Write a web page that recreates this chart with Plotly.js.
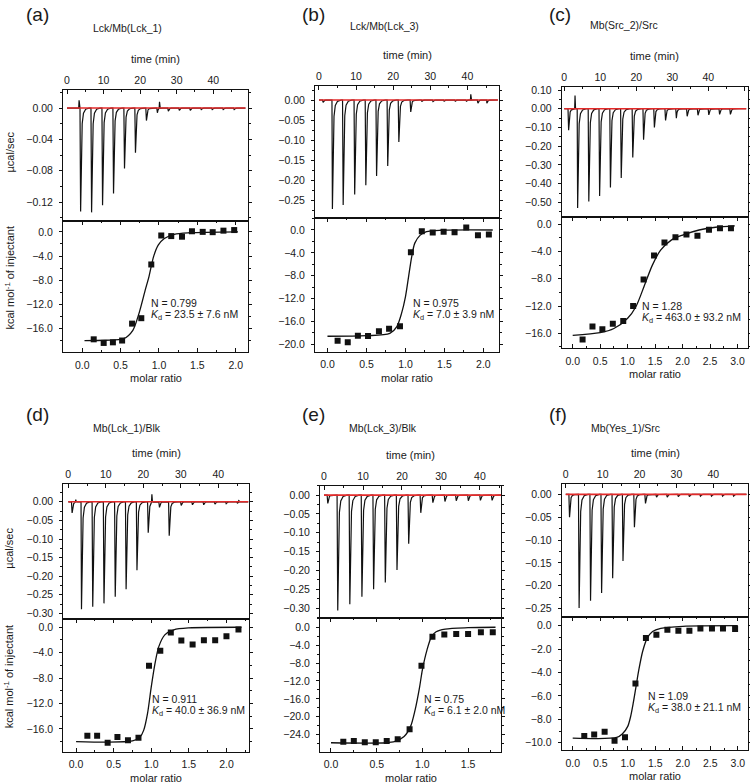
<!DOCTYPE html>
<html><head><meta charset="utf-8">
<script src="https://cdn.plot.ly/plotly-3.0.1.min.js"></script>
<style>body{margin:0;background:#fff}#chart{width:750px;height:783px}</style>
</head><body><div id="chart"></div>
<script>
// ---------- DATA ----------
// Panel (a) Lck/Mb(Lck_1)
const timesA = [3.6, 6.6, 9.6, 12.6, 15.6, 18.6, 21.6, 24.6, 27.6, 30.6, 33.6, 36.6, 39.6, 42.6, 45.6];
const peaksA = [-0.132, -0.133, -0.124, -0.109, -0.077, -0.057, -0.016, -0.006, -0.004, -0.003, -0.003, -0.002, -0.002, -0.002, -0.002];
const blipTA = [3.3, 25.3];
const blipVA = [0.010, 0.008];
const ratioA = [0.15, 0.28, 0.40, 0.52, 0.65, 0.77, 0.90, 1.03, 1.16, 1.30, 1.43, 1.57, 1.70, 1.84, 1.98];
const heatA  = [-17.8, -18.4, -18.3, -18.0, -15.2, -14.3, -5.4, -0.6, -0.7, -0.8, 0.1, 0.0, -0.05, 0.2, 0.3];
const fitXA  = [0.03, 0.30, 0.54, 0.66, 0.74, 0.82, 0.87, 0.93, 0.99, 1.07, 1.20, 1.40, 2.03];
const fitYA  = [-18.0, -17.95, -17.7, -16.3, -13.5, -9.7, -7.4, -4.1, -2.2, -1.1, -0.4, -0.15, 0.0];

// Panel (b) Lck/Mb(Lck_3)
const timesB = [1.0, 3.5, 6.4, 9.5, 12.5, 15.4, 18.4, 21.4, 24.6, 27.6, 30.6, 33.6, 36.6, 39.6, 42.7, 45.1];
const peaksB = [-0.006, -0.272, -0.262, -0.236, -0.213, -0.190, -0.165, -0.105, -0.030, -0.004, -0.004, -0.003, -0.003, -0.003, -0.008, -0.008];
const blipTB = [40.9];
const blipVB = [0.014];
const ratioB = [0.13, 0.26, 0.39, 0.52, 0.66, 0.79, 0.93, 1.07, 1.21, 1.35, 1.49, 1.63, 1.78, 1.93, 2.07];
const heatB  = [-19.4, -19.65, -18.5, -18.55, -17.7, -17.3, -16.85, -3.9, -0.2, -0.45, -0.3, -0.4, 0.45, -0.9, -0.8];
const fitXB  = [0.0, 0.5, 0.8, 0.89, 0.95, 1.0, 1.04, 1.08, 1.12, 1.19, 1.27, 1.45, 2.12];
const fitYB  = [-18.6, -18.5, -18.1, -16.9, -14.6, -11.7, -8.2, -4.7, -2.3, -0.9, -0.3, -0.05, 0.0];

// Panel (c) Mb(Src_2)/Src
const timesC = [1.1, 3.6, 6.7, 9.7, 12.7, 15.7, 18.9, 21.9, 24.9, 28.0, 31.0, 34.0, 37.0, 40.0, 43.0, 46.0];
const peaksC = [-0.115, -0.53, -0.495, -0.465, -0.42, -0.37, -0.26, -0.165, -0.10, -0.062, -0.05, -0.04, -0.035, -0.033, -0.03, -0.03];
const blipTC = [3.0];
const blipVC = [0.07];
const ratioC = [0.18, 0.36, 0.54, 0.73, 0.92, 1.10, 1.29, 1.48, 1.67, 1.87, 2.07, 2.27, 2.48, 2.68, 2.88];
const heatC  = [-16.9, -15.0, -15.4, -14.6, -14.2, -12.0, -8.1, -4.6, -2.7, -1.9, -1.5, -1.7, -0.8, -0.6, -0.6];
const fitXC  = [0.0, 0.5, 0.75, 1.0, 1.15, 1.3, 1.45, 1.6, 1.8, 2.0, 2.3, 2.6, 2.95];
const fitYC  = [-16.3, -15.9, -15.3, -13.8, -12.1, -9.1, -6.0, -3.8, -2.3, -1.6, -0.85, -0.45, -0.25];

// Panel (d) Mb(Lck_1)/Blk
const timesD = [0.9, 3.4, 6.4, 9.4, 12.4, 15.3, 18.2, 21.2, 24.2, 26.8, 30.0, 33.0, 36.0, 39.0, 42.0, 45.0];
const peaksD = [-0.03, -0.289, -0.282, -0.273, -0.255, -0.235, -0.184, -0.083, -0.015, -0.091, -0.010, -0.008, -0.008, -0.006, -0.005, -0.004];
const blipTD = [2.0, 22.3, 45.5];
const blipVD = [0.006, 0.02, 0.005];
const ratioD = [0.15, 0.28, 0.42, 0.55, 0.69, 0.83, 0.97, 1.12, 1.26, 1.40, 1.55, 1.70, 1.85, 2.00, 2.16];
const heatD  = [-17.1, -17.1, -18.2, -17.3, -17.8, -17.4, -6.05, -3.7, -0.84, -2.1, -2.7, -2.05, -2.05, -1.4, -0.37];
const fitXD  = [0.0, 0.75, 0.85, 0.9, 0.95, 1.0, 1.05, 1.1, 1.18, 1.3, 1.5, 2.2];
const fitYD  = [-18.0, -17.9, -17.3, -16.2, -13.6, -9.4, -5.7, -3.05, -1.2, -0.4, -0.1, 0.0];

// Panel (e) Mb(Lck_3)/Blk
const timesE = [0.85, 3.4, 6.5, 9.6, 12.6, 15.6, 18.6, 21.6, 24.7, 27.8, 30.9, 33.8, 36.9, 40.0, 43.0];
const peaksE = [-0.022, -0.306, -0.29, -0.27, -0.25, -0.232, -0.199, -0.129, -0.047, -0.02, -0.017, -0.015, -0.015, -0.014, -0.014];
const blipTE = [];
const blipVE = [];
const ratioE = [0.135, 0.25, 0.37, 0.49, 0.61, 0.73, 0.86, 0.99, 1.11, 1.24, 1.37, 1.50, 1.64, 1.77];
const heatE  = [-25.6, -25.4, -25.7, -25.7, -25.4, -25.0, -22.8, -8.6, -2.1, -1.6, -1.5, -1.5, -1.1, -1.1];
const fitXE  = [0.0, 0.6, 0.7, 0.8, 0.87, 0.92, 0.97, 1.0, 1.05, 1.1, 1.15, 1.25, 1.5, 1.8];
const fitYE  = [-25.8, -25.8, -25.5, -24.4, -22.2, -18.5, -13.3, -9.5, -5.1, -2.1, -1.0, -0.4, -0.1, 0.0];

// Panel (f) Mb(Yes_1)/Src
const timesF = [0.9, 3.5, 6.6, 9.6, 12.6, 15.4, 18.5, 21.5, 24.5, 27.4, 30.4, 33.4, 36.4, 39.4, 42.4, 45.4];
const peaksF = [-0.05, -0.249, -0.233, -0.216, -0.184, -0.146, -0.072, -0.020, -0.006, -0.006, -0.005, -0.005, -0.004, -0.004, -0.004, -0.004];
const blipTF = [];
const blipVF = [];
const ratioF = [0.21, 0.39, 0.58, 0.76, 0.95, 1.14, 1.33, 1.52, 1.72, 1.92, 2.12, 2.32, 2.53, 2.73, 2.95];
const heatF  = [-9.43, -9.29, -9.06, -9.83, -9.54, -4.93, -1.05, -0.77, -0.34, -0.43, -0.43, -0.23, -0.23, -0.23, -0.28];
const fitXF  = [0.0, 0.8, 0.9, 1.0, 1.05, 1.1, 1.15, 1.2, 1.27, 1.35, 1.45, 1.6, 2.0, 3.0];
const fitYF  = [-9.6, -9.55, -9.26, -8.6, -7.8, -6.6, -5.2, -3.8, -2.2, -1.1, -0.5, -0.23, -0.05, 0.0];

// ---------- PANEL SETUP (layout / style) ----------
const W = 750, H = 783;
const panels = [
 {lab:'(a)', title:'Lck/Mb(Lck_1)', X:[63,248], T:[90,221], B:[221,352], tR:[-1.1,49.5], tEnd:48.8,
  pR:[-0.144,0.023], pD:0.04, hR:[-19.9,1.8], hD:4, mR:[-0.25,2.16], labXY:[37,14], titXY:[127.5,28],
  N:'0.799', K:'23.5 ± 7.6 nM', nXY:[149,303], yl:true,
  d:[timesA,peaksA,blipTA,blipVA,ratioA,heatA,fitXA,fitYA]},
 {lab:'(b)', title:'Lck/Mb(Lck_3)', X:[315,499], T:[86,217.7], B:[217.7,351.7], tR:[-1.07,48.5], tEnd:48.2,
  pR:[-0.294,0.035], pD:0.05, hR:[-21.3,2.15], hD:4, mR:[-0.16,2.2], labXY:[313,14], titXY:[384,26],
  N:'0.975', K:'7.0 ± 3.9 nM', nXY:[411,303],
  d:[timesB,peaksB,blipTB,blipVB,ratioB,heatB,fitXB,fitYB]},
 {lab:'(c)', title:'Mb(Src_2)/Src', X:[561.7,748], T:[87,216.7], B:[216.7,348.3], tR:[-0.7,51], tEnd:50.5,
  pR:[-0.576,0.116], pD:0.1, hR:[-18.2,1.1], hD:4, mR:[-0.2,3.19], labXY:[560,14], titXY:[624,25],
  N:'1.28', K:'463.0 ± 93.2 nM', nXY:[640,306],
  d:[timesC,peaksC,blipTC,blipVC,ratioC,heatC,fitXC,fitYC]},
 {lab:'(d)', title:'Mb(Lck_1)/Blk', X:[63.3,249], T:[484.3,619], B:[619,751.7], tR:[-1.33,48.2], tEnd:48,
  pR:[-0.315,0.047], pD:0.05, hR:[-19.6,1.3], hD:4, mR:[-0.17,2.3], labXY:[37,414], titXY:[127,428],
  N:'0.911', K:'40.0 ± 36.9 nM', nXY:[150,699], yl:true,
  d:[timesD,peaksD,blipTD,blipVD,ratioD,heatD,fitXD,fitYD]},
 {lab:'(e)', title:'Mb(Lck_3)/Blk', X:[320,501], T:[485.7,618.3], B:[618.3,751.7], tR:[-1.03,45.4], tEnd:45.4,
  pR:[-0.327,0.025], pD:0.05, hR:[-27.8,2.0], hD:4, mR:[-0.12,1.86], labXY:[313,414], titXY:[383,428],
  N:'0.75', K:'6.1 ± 2.0 nM', nXY:[421.7,699],
  d:[timesE,peaksE,blipTE,blipVE,ratioE,heatE,fitXE,fitYE]},
 {lab:'(f)', title:'Mb(Yes_1)/Src', X:[561.7,748.3], T:[484.3,616.7], B:[616.7,750], tR:[-1.1,49.5], tEnd:49,
  pR:[-0.268,0.022], pD:0.05, hR:[-10.62,0.77], hD:2, mR:[-0.2,3.19], labXY:[558,414], titXY:[625,428],
  N:'1.09', K:'38.0 ± 21.1 nM', nXY:[645.7,696],
  d:[timesF,peaksF,blipTF,blipVF,ratioF,heatF,fitXF,fitYF]}
];

// injection peak rendering profile (shape only)
const SHAPE_DT = [-0.05, 0.12, 0.3, 0.55, 0.9, 1.5, 2.5];
const SHAPE_F  = [0, 1, 0.4, 0.15, 0.05, 0.012, 0];
function buildTrace(times, peaks, bT, bV, tEnd){
  const pts = [[0,0]];
  times.forEach((t,i)=>SHAPE_DT.forEach((d,j)=>pts.push([t+d, peaks[i]*SHAPE_F[j]])));
  bT.forEach((t,i)=>{pts.push([t-0.1,0],[t,bV[i]],[t+0.15,0]);});
  pts.push([tEnd,0]);
  pts.sort((a,b)=>a[0]-b[0]);
  return {x:pts.map(p=>p[0]), y:pts.map(p=>p[1])};
}

const FONT = 'Liberation Sans, Arial, sans-serif';
const TXT = '#1a1a1a';
const tickfont = {family:FONT, size:10.5, color:TXT};
const traces = [];
const layout = {width:W, height:H, margin:{l:0,r:0,t:0,b:0}, showlegend:false,
  paper_bgcolor:'#fff', plot_bgcolor:'#fff', annotations:[]};
const px = x=>x/W, py = y=>1-y/H;
const s = n=>n===1?'':String(n);
function ann(text,x,y,o){layout.annotations.push(Object.assign({text, x:px(x), y:py(y), xref:'paper', yref:'paper',
  showarrow:false, xanchor:'center', yanchor:'middle', font:{family:FONT,size:11,color:TXT}}, o||{}));}

const axBase = {showline:true, linecolor:'#111', linewidth:1, showgrid:false, zeroline:false, tickfont,
  tickcolor:'#111'};

panels.forEach((p,k)=>{
  const t = 2*k+1, b = 2*k+2;
  const [times,peaks,bT,bV,ratio,heat,fx,fy] = p.d;
  const tr = buildTrace(times,peaks,bT,bV,p.tEnd);
  traces.push({x:tr.x, y:tr.y, xaxis:'x'+s(t), yaxis:'y'+s(t), mode:'lines', line:{color:'#111', width:1.2}, hoverinfo:'skip'});
  traces.push({x:[0,p.tEnd], y:[0,0], xaxis:'x'+s(t), yaxis:'y'+s(t), mode:'lines', line:{color:'#e32a2a', width:1.6}});
  traces.push({x:fx, y:fy, xaxis:'x'+s(b), yaxis:'y'+s(b), mode:'lines', line:{color:'#111', width:1.3, shape:'spline', smoothing:0.8}});
  traces.push({x:ratio, y:heat, xaxis:'x'+s(b), yaxis:'y'+s(b), mode:'markers', marker:{symbol:'square', size:6, color:'#111'}});

  const xd = [px(p.X[0]), px(p.X[1])];
  layout['xaxis'+s(t)] = Object.assign({}, axBase, {domain:xd, range:p.tR, anchor:'y'+s(t), side:'top',
    tick0:0, dtick:10, tickformat:'d', ticks:'inside', ticklen:4, mirror:true,
    minor:{dtick:5, ticks:'inside', ticklen:2, tickcolor:'#111'}, ticklabelstandoff:1});
  layout['yaxis'+s(t)] = Object.assign({}, axBase, {domain:[py(p.T[1]), py(p.T[0])], range:p.pR, anchor:'x'+s(t),
    tick0:0, dtick:p.pD, tickformat:'.2f', ticks:'outside', ticklen:3, mirror:'ticks',
    minor:{dtick:p.pD/2, ticks:'outside', ticklen:2, tickcolor:'#111'}, ticklabelstandoff:4});
  layout['xaxis'+s(b)] = Object.assign({}, axBase, {domain:xd, range:p.mR, anchor:'y'+s(b), side:'bottom',
    tick0:0, dtick:0.5, tickformat:'.1f', ticks:'inside', ticklen:4, mirror:'ticks',
    minor:{dtick:0.25, ticks:'inside', ticklen:2, tickcolor:'#111'}, ticklabelstandoff:3});
  layout['yaxis'+s(b)] = Object.assign({}, axBase, {domain:[py(p.B[1]), py(p.B[0])], range:p.hR, anchor:'x'+s(b),
    tick0:0, dtick:p.hD, tickformat:'.1f', ticks:'outside', ticklen:3, mirror:'ticks',
    minor:{dtick:p.hD/2, ticks:'outside', ticklen:2, tickcolor:'#111'}, ticklabelstandoff:4});

  const cx = (p.X[0]+p.X[1])/2;
  ann(p.lab, p.labXY[0], p.labXY[1], {font:{family:FONT,size:19,color:TXT}});
  ann(p.title, p.titXY[0], p.titXY[1], {font:{family:FONT,size:10.5,color:TXT}});
  ann('time (min)', cx, p.T[0]-31);
  ann('molar ratio', cx, p.B[1]+26);
  ann('N = '+p.N, p.nXY[0], p.nXY[1], {xanchor:'left', font:{family:FONT,size:10.5,color:TXT}});
  ann('<i>K</i><sub>d</sub> = '+p.K, p.nXY[0], p.nXY[1]+12, {xanchor:'left', font:{family:FONT,size:10.5,color:TXT}});
  if(p.yl){
    ann('µcal/sec', 9, (p.T[0]+p.T[1])/2 - 3, {textangle:-90});
    ann('kcal mol<sup>-1</sup> of injectant', 9, (p.B[0]+p.B[1])/2 - 8, {textangle:-90});
  }
});

Plotly.newPlot('chart', traces, layout, {staticPlot:true, displayModeBar:false});
</script></body></html>
